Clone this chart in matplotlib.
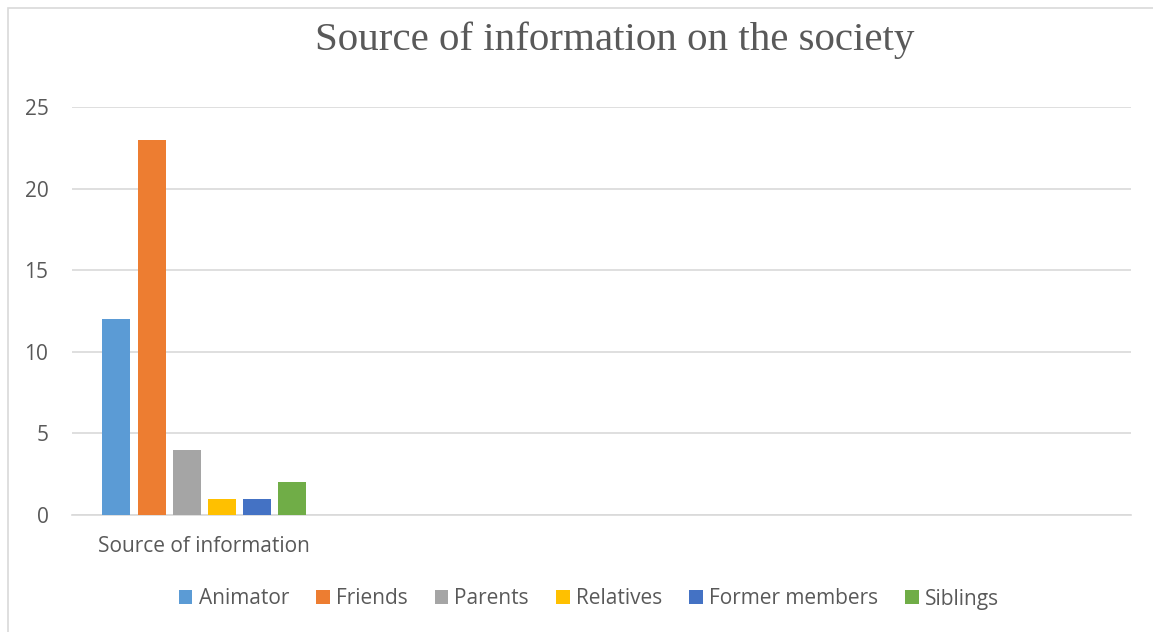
import matplotlib
matplotlib.use("Agg")
import matplotlib.pyplot as plt
import numpy as np
from matplotlib.patches import Rectangle

categories = ["Source of information", "", "", ""]
series_names = ["Animator", "Friends", "Parents", "Relatives", "Former members", "Siblings"]
series_values = [12, 23, 4, 1, 1, 2]
colors = ["#5B9BD5", "#ED7D31", "#A5A5A5", "#FFC000", "#4472C4", "#70AD47"]
yticks = [0, 5, 10, 15, 20, 25]
title = "Source of information on the society"

W, H = 1153, 632
fig = plt.figure(figsize=(W / 100, H / 100), dpi=100)
ax = fig.add_axes([72 / W, (H - 515) / H, (1131 - 72) / W, (515 - 107) / H])

# chart border
fig.patches.append(Rectangle((7.5 / W, -0.01), 1.5, (H - 8) / H + 0.01,
                             transform=fig.transFigure, fill=False,
                             edgecolor="#D9D9D9", linewidth=1.2))

step = 0.133
width = 0.106
n = len(series_names)
for i, (name, val, c) in enumerate(zip(series_names, series_values, colors)):
    offset = (i - (n - 1) / 2) * step
    vals = [val] + [np.nan] * (len(categories) - 1)
    ax.bar(np.arange(len(categories)) + offset, vals, width=width, color=c, label=name, zorder=3)

ax.set_xlim(-0.5, len(categories) - 0.5)
ax.set_ylim(0, 25)
ax.set_yticks(yticks)
ax.set_xticks(np.arange(len(categories)))
ax.set_xticklabels(categories)
ax.yaxis.grid(True, color="#D9D9D9", linewidth=1.2, zorder=0)
ax.set_axisbelow(True)
for s in ["top", "right", "left"]:
    ax.spines[s].set_visible(False)
ax.spines["bottom"].set_color("#D9D9D9")
ax.spines["bottom"].set_linewidth(1.2)
ax.tick_params(axis="both", length=0, labelsize=15, labelcolor="#595959")
ax.tick_params(axis="y", pad=17)
ax.tick_params(axis="x", pad=15)
for lab in ax.get_xticklabels() + ax.get_yticklabels():
    lab.set_family("Open Sans")

fig.text(615 / W, (H - 40) / H, title, ha="center", va="center",
         fontsize=29.5, color="#595959", family="Liberation Serif")

leg = fig.legend(loc="center", bbox_to_anchor=(589 / W, (H - 599) / H), ncol=6,
                 frameon=False, handlelength=0.65, handleheight=0.65,
                 handletextpad=0.3, columnspacing=1.3,
                 prop={"family": "Open Sans", "size": 15})
for t in leg.get_texts():
    t.set_color("#595959")

fig.savefig("out.png", dpi=100)
